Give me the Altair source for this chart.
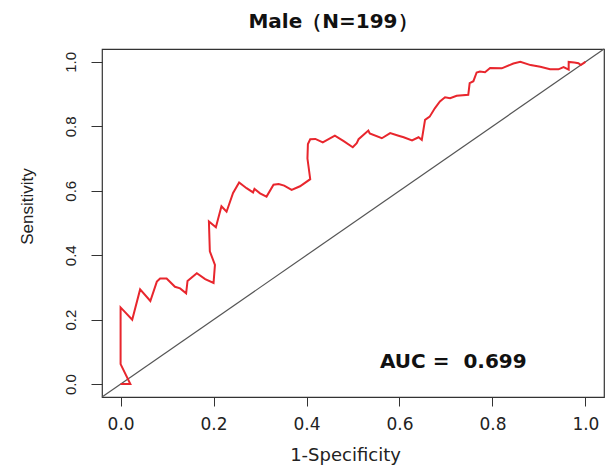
import altair as alt
import pandas as pd

# ROC curve points (1-specificity, sensitivity)
fpr = [0.000, 0.021, 0.000, 0.000, 0.025, 0.042, 0.064, 0.078, 0.085, 0.099,
       0.117, 0.128, 0.141, 0.144, 0.164, 0.182, 0.200, 0.203, 0.192, 0.190,
       0.205, 0.217, 0.228, 0.242, 0.255, 0.271, 0.285, 0.288, 0.300, 0.314,
       0.329, 0.340, 0.352, 0.368, 0.386, 0.408, 0.402, 0.403, 0.408, 0.419,
       0.435, 0.461, 0.480, 0.4995, 0.508, 0.512, 0.533, 0.536, 0.562, 0.580,
       0.598, 0.609, 0.627, 0.641, 0.648, 0.655, 0.665, 0.676, 0.687, 0.698,
       0.709, 0.723, 0.748, 0.751, 0.759, 0.766, 0.773, 0.784, 0.795, 0.820,
       0.845, 0.860, 0.882, 0.903, 0.924, 0.942, 0.953, 0.964, 0.964, 0.976,
       0.985, 0.990, 1.000]
tpr = [0.000, 0.000, 0.062, 0.238, 0.200, 0.294, 0.258, 0.318, 0.328, 0.328,
       0.302, 0.297, 0.282, 0.320, 0.344, 0.326, 0.314, 0.370, 0.412, 0.505,
       0.487, 0.552, 0.535, 0.593, 0.626, 0.608, 0.595, 0.606, 0.592, 0.582,
       0.619, 0.621, 0.616, 0.603, 0.614, 0.636, 0.700, 0.745, 0.760, 0.761,
       0.750, 0.771, 0.754, 0.735, 0.748, 0.760, 0.787, 0.778, 0.763, 0.779,
       0.771, 0.766, 0.756, 0.766, 0.758, 0.820, 0.830, 0.856, 0.877, 0.890,
       0.887, 0.895, 0.898, 0.934, 0.940, 0.967, 0.970, 0.968, 0.981, 0.980,
       0.995, 1.000, 0.990, 0.985, 0.977, 0.977, 0.984, 0.976, 1.000, 0.998,
       0.996, 0.990, 1.000]

diag = [-0.04, 1.04]
tick_vals = [0.0, 0.2, 0.4, 0.6, 0.8, 1.0]
title_text = "Male（N=199）"
auc_text = "AUC =\u00a0 0.699"
auc_x = [0.558]
auc_y = [0.051]

roc = pd.DataFrame({"fpr": fpr, "tpr": tpr, "order": list(range(len(fpr)))})
diag_df = pd.DataFrame({"x": diag, "y": diag})
auc_df = pd.DataFrame({"x": auc_x, "y": auc_y, "label": [auc_text]})

xs = alt.Scale(domain=[-0.04, 1.04], nice=False, zero=False)
ys = alt.Scale(domain=[-0.04, 1.04], nice=False, zero=False)

xaxis = alt.Axis(values=tick_vals, format=".1f", title="1-Specificity", grid=False,
                 domain=False, tickSize=9, tickColor="#333", tickWidth=1,
                 labelFont="DejaVu Sans", labelFontSize=17, labelColor="#222",
                 labelPadding=10, labelFlush=False, labelOverlap=False,
                 titleFont="DejaVu Sans", titleFontSize=18, titleFontWeight="normal",
                 titleColor="#222", titleX=243, titleY=63, titleAlign="center",
                 titleBaseline="alphabetic")
yaxis = alt.Axis(values=tick_vals, format=".1f", title="Sensitivity", grid=False,
                 domain=False, tickSize=11, tickColor="#333", tickWidth=1,
                 labelFont="Liberation Sans", labelFontSize=15, labelColor="#222",
                 labelAngle=270, labelAlign="center", labelBaseline="alphabetic",
                 labelPadding=16, labelFlush=False, labelOverlap=False,
                 titleFont="Liberation Sans", titleFontSize=17, titleFontWeight="normal",
                 titleColor="#222", titleAngle=270, titleX=-70, titleY=157,
                 titleAlign="center", titleBaseline="alphabetic")

curve = alt.Chart(roc).mark_line(color="#E8262D", strokeWidth=2).encode(
    x=alt.X("fpr:Q", scale=xs, axis=xaxis),
    y=alt.Y("tpr:Q", scale=ys, axis=yaxis),
    order="order:Q",
)
diag_line = alt.Chart(diag_df).mark_line(color="#555555", strokeWidth=1.2).encode(
    x=alt.X("x:Q", scale=xs),
    y=alt.Y("y:Q", scale=ys),
)
auc = alt.Chart(auc_df).mark_text(align="left", baseline="alphabetic",
                                  font="DejaVu Sans", fontSize=20,
                                  fontWeight="bold", color="#111").encode(
    x=alt.X("x:Q", scale=xs),
    y=alt.Y("y:Q", scale=ys),
    text="label:N",
)

chart = alt.layer(diag_line, curve, auc).properties(
    width=502, height=348,
    title=alt.TitleParams(text=title_text, font="DejaVu Sans", fontSize=20,
                          fontWeight="bold", anchor="middle", frame="group",
                          dx=-20, dy=23, offset=22, baseline="alphabetic",
                          color="#111"),
    autosize=alt.AutoSizeParams(type="none"),
    padding={"left": 102, "top": 49, "right": 5, "bottom": 74},
    background="white",
).configure_view(stroke="#333333", strokeWidth=1.2)

chart.save("out.html", embed_options={"renderer": "svg", "actions": False})
